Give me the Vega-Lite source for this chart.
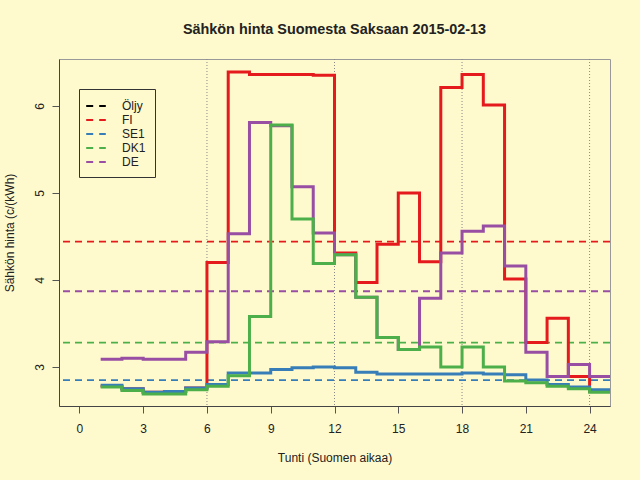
{
  "$schema": "https://vega.github.io/schema/vega-lite/v6.json",
  "width": 551,
  "height": 347,
  "autosize": {"type": "none"},
  "padding": {"left": 59, "top": 59, "right": 30, "bottom": 74},
  "background": "#FFFACD",
  "title": {
    "text": "Sähkön hinta Suomesta Saksaan 2015-02-13",
    "font": "Liberation Sans",
    "fontSize": 14.4,
    "fontWeight": "bold",
    "color": "#222222",
    "anchor": "middle",
    "baseline": "alphabetic",
    "offset": 10
  },
  "config": {
    "view": {"stroke": "#999999", "strokeWidth": 1, "fill": "#FFFACD"},
    "axis": {
      "labelFont": "Liberation Sans",
      "titleFont": "Liberation Sans",
      "labelFontSize": 12,
      "titleFontSize": 12,
      "titleFontWeight": "normal",
      "labelColor": "#222222",
      "titleColor": "#222222",
      "tickColor": "#555555",
      "tickSize": 7,
      "grid": false,
      "domainColor": "#444444"
    },
    "legend": {
      "orient": "none",
      "legendX": 20,
      "legendY": 30,
      "direction": "vertical",
      "strokeColor": "#333333",
      "fillColor": "#FFFACD",
      "padding": 9,
      "symbolType": "M-1.4,0H1.4",
      "symbolSize": 196,
      "symbolStrokeWidth": 2,
      "symbolDash": [7, 6],
      "labelFont": "Liberation Sans",
      "labelFontSize": 12,
      "labelColor": "#222222",
      "labelOffset": 18,
      "rowPadding": 0
    }
  },
  "datasets": {
    "hinnat": [
      {"alue": "FI", "tunti": 1, "hinta": 2.78},
      {"alue": "FI", "tunti": 2, "hinta": 2.75},
      {"alue": "FI", "tunti": 3, "hinta": 2.71},
      {"alue": "FI", "tunti": 4, "hinta": 2.72},
      {"alue": "FI", "tunti": 5, "hinta": 2.76},
      {"alue": "FI", "tunti": 6, "hinta": 4.20},
      {"alue": "FI", "tunti": 7, "hinta": 6.39},
      {"alue": "FI", "tunti": 8, "hinta": 6.36},
      {"alue": "FI", "tunti": 9, "hinta": 6.36},
      {"alue": "FI", "tunti": 10, "hinta": 6.36},
      {"alue": "FI", "tunti": 11, "hinta": 6.35},
      {"alue": "FI", "tunti": 12, "hinta": 4.31},
      {"alue": "FI", "tunti": 13, "hinta": 3.97},
      {"alue": "FI", "tunti": 14, "hinta": 4.41},
      {"alue": "FI", "tunti": 15, "hinta": 5.00},
      {"alue": "FI", "tunti": 16, "hinta": 4.21},
      {"alue": "FI", "tunti": 17, "hinta": 6.21},
      {"alue": "FI", "tunti": 18, "hinta": 6.36},
      {"alue": "FI", "tunti": 19, "hinta": 6.01},
      {"alue": "FI", "tunti": 20, "hinta": 4.01},
      {"alue": "FI", "tunti": 21, "hinta": 3.28},
      {"alue": "FI", "tunti": 22, "hinta": 3.56},
      {"alue": "FI", "tunti": 23, "hinta": 2.89},
      {"alue": "FI", "tunti": 24, "hinta": 2.72},
      {"alue": "FI", "tunti": 25, "hinta": 2.72},
      {"alue": "SE1", "tunti": 1, "hinta": 2.79},
      {"alue": "SE1", "tunti": 2, "hinta": 2.75},
      {"alue": "SE1", "tunti": 3, "hinta": 2.71},
      {"alue": "SE1", "tunti": 4, "hinta": 2.72},
      {"alue": "SE1", "tunti": 5, "hinta": 2.76},
      {"alue": "SE1", "tunti": 6, "hinta": 2.80},
      {"alue": "SE1", "tunti": 7, "hinta": 2.93},
      {"alue": "SE1", "tunti": 8, "hinta": 2.93},
      {"alue": "SE1", "tunti": 9, "hinta": 2.97},
      {"alue": "SE1", "tunti": 10, "hinta": 2.99},
      {"alue": "SE1", "tunti": 11, "hinta": 3.00},
      {"alue": "SE1", "tunti": 12, "hinta": 2.99},
      {"alue": "SE1", "tunti": 13, "hinta": 2.94},
      {"alue": "SE1", "tunti": 14, "hinta": 2.92},
      {"alue": "SE1", "tunti": 15, "hinta": 2.92},
      {"alue": "SE1", "tunti": 16, "hinta": 2.92},
      {"alue": "SE1", "tunti": 17, "hinta": 2.92},
      {"alue": "SE1", "tunti": 18, "hinta": 2.93},
      {"alue": "SE1", "tunti": 19, "hinta": 2.92},
      {"alue": "SE1", "tunti": 20, "hinta": 2.91},
      {"alue": "SE1", "tunti": 21, "hinta": 2.85},
      {"alue": "SE1", "tunti": 22, "hinta": 2.80},
      {"alue": "SE1", "tunti": 23, "hinta": 2.77},
      {"alue": "SE1", "tunti": 24, "hinta": 2.74},
      {"alue": "SE1", "tunti": 25, "hinta": 2.74},
      {"alue": "DE", "tunti": 1, "hinta": 3.09},
      {"alue": "DE", "tunti": 2, "hinta": 3.10},
      {"alue": "DE", "tunti": 3, "hinta": 3.09},
      {"alue": "DE", "tunti": 4, "hinta": 3.09},
      {"alue": "DE", "tunti": 5, "hinta": 3.17},
      {"alue": "DE", "tunti": 6, "hinta": 3.29},
      {"alue": "DE", "tunti": 7, "hinta": 4.53},
      {"alue": "DE", "tunti": 8, "hinta": 5.81},
      {"alue": "DE", "tunti": 9, "hinta": 5.77},
      {"alue": "DE", "tunti": 10, "hinta": 5.07},
      {"alue": "DE", "tunti": 11, "hinta": 4.54},
      {"alue": "DE", "tunti": 12, "hinta": 4.29},
      {"alue": "DE", "tunti": 13, "hinta": 3.80},
      {"alue": "DE", "tunti": 14, "hinta": 3.34},
      {"alue": "DE", "tunti": 15, "hinta": 3.20},
      {"alue": "DE", "tunti": 16, "hinta": 3.79},
      {"alue": "DE", "tunti": 17, "hinta": 4.31},
      {"alue": "DE", "tunti": 18, "hinta": 4.56},
      {"alue": "DE", "tunti": 19, "hinta": 4.62},
      {"alue": "DE", "tunti": 20, "hinta": 4.16},
      {"alue": "DE", "tunti": 21, "hinta": 3.17},
      {"alue": "DE", "tunti": 22, "hinta": 2.89},
      {"alue": "DE", "tunti": 23, "hinta": 3.03},
      {"alue": "DE", "tunti": 24, "hinta": 2.89},
      {"alue": "DE", "tunti": 25, "hinta": 2.89},
      {"alue": "DK1", "tunti": 1, "hinta": 2.77},
      {"alue": "DK1", "tunti": 2, "hinta": 2.73},
      {"alue": "DK1", "tunti": 3, "hinta": 2.69},
      {"alue": "DK1", "tunti": 4, "hinta": 2.69},
      {"alue": "DK1", "tunti": 5, "hinta": 2.74},
      {"alue": "DK1", "tunti": 6, "hinta": 2.78},
      {"alue": "DK1", "tunti": 7, "hinta": 2.90},
      {"alue": "DK1", "tunti": 8, "hinta": 3.58},
      {"alue": "DK1", "tunti": 9, "hinta": 5.78},
      {"alue": "DK1", "tunti": 10, "hinta": 4.70},
      {"alue": "DK1", "tunti": 11, "hinta": 4.19},
      {"alue": "DK1", "tunti": 12, "hinta": 4.29},
      {"alue": "DK1", "tunti": 13, "hinta": 3.80},
      {"alue": "DK1", "tunti": 14, "hinta": 3.34},
      {"alue": "DK1", "tunti": 15, "hinta": 3.20},
      {"alue": "DK1", "tunti": 16, "hinta": 3.23},
      {"alue": "DK1", "tunti": 17, "hinta": 3.00},
      {"alue": "DK1", "tunti": 18, "hinta": 3.23},
      {"alue": "DK1", "tunti": 19, "hinta": 3.00},
      {"alue": "DK1", "tunti": 20, "hinta": 2.84},
      {"alue": "DK1", "tunti": 21, "hinta": 2.82},
      {"alue": "DK1", "tunti": 22, "hinta": 2.78},
      {"alue": "DK1", "tunti": 23, "hinta": 2.75},
      {"alue": "DK1", "tunti": 24, "hinta": 2.71},
      {"alue": "DK1", "tunti": 25, "hinta": 2.71}
    ],
    "keskiarvot": [
      {"alue": "FI", "hinta": 4.44},
      {"alue": "SE1", "hinta": 2.85},
      {"alue": "DK1", "hinta": 3.28},
      {"alue": "DE", "hinta": 3.87}
    ],
    "apuviivat": [
      {"tunti": 6},
      {"tunti": 12},
      {"tunti": 18},
      {"tunti": 24}
    ]
  },
  "layer": [
    {
      "data": {"name": "apuviivat"},
      "mark": {"type": "rule", "stroke": "#888888", "strokeWidth": 1, "strokeDash": [1, 2]},
      "encoding": {
        "x": {
          "field": "tunti",
          "type": "quantitative",
          "scale": {"domain": [-0.96, 24.96], "nice": false, "zero": false},
          "axis": {"values": [0, 3, 6, 9, 12, 15, 18, 21, 24], "format": "d", "title": "Tunti (Suomen aikaa)", "labelPadding": 10, "titleBaseline": "alphabetic", "titleY": 55, "titleX": 275.5, "titleAnchor": "middle", "titleAlign": "center"}
        }
      }
    },
    {
      "data": {"name": "keskiarvot"},
      "mark": {"type": "rule", "strokeWidth": 1.8, "strokeDash": [7, 5]},
      "encoding": {
        "y": {
          "field": "hinta",
          "type": "quantitative",
          "scale": {"domain": [2.552, 6.538], "nice": false, "zero": false},
          "axis": {"values": [3, 4, 5, 6], "format": "d", "title": "Sähkön hinta (c/(kWh)", "labelAngle": -90, "labelAlign": "center", "labelBaseline": "alphabetic", "labelPadding": 9, "titleAngle": -90, "titleAlign": "center", "titleBaseline": "alphabetic", "titleX": -46, "titleY": 173.5}
        },
        "color": {
          "field": "alue",
          "type": "nominal",
          "scale": {"domain": ["Öljy", "FI", "SE1", "DK1", "DE"], "range": ["#000000", "#E41A1C", "#377EB8", "#4DAF4A", "#984EA3"]},
          "legend": {"title": null}
        }
      }
    },
    {
      "data": {"name": "hinnat"},
      "mark": {"type": "line", "interpolate": "step-after", "strokeWidth": 3, "clip": true},
      "encoding": {
        "x": {"field": "tunti", "type": "quantitative"},
        "y": {"field": "hinta", "type": "quantitative"},
        "color": {"field": "alue", "type": "nominal"}
      }
    }
  ]
}
